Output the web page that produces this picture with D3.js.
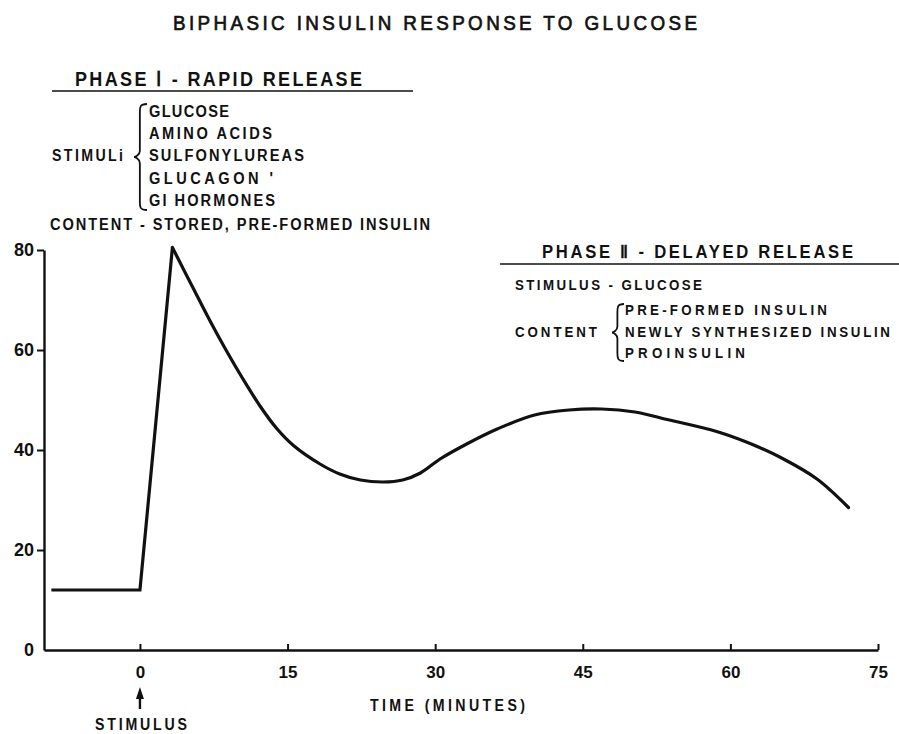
<!DOCTYPE html>
<html><head><meta charset="utf-8">
<script src="https://cdn.jsdelivr.net/npm/d3@7"></script>
<style>body{margin:0;background:#fff}svg{display:block}</style>
</head><body><svg id="c" width="899" height="734"></svg>
<script>
// ---- data ----
const timeMinutes = [-9, 0, 3.3, 5.4, 7.1, 8.8, 10.5, 12.2, 13.9, 15.6, 18.3, 20.3, 22.4, 24.7, 26.7, 28.5, 30.5, 33.2, 36.3, 40.1, 43.6, 46.9, 50.3, 53.8, 58.6, 62, 65.3, 68.8, 72];
const insulinLevel = [12, 12, 80.5, 72.4, 65.9, 59.8, 54.1, 48.8, 44.3, 40.9, 37.2, 35.2, 34, 33.6, 34, 35.4, 38.2, 41.2, 44.2, 47, 48, 48.2, 47.6, 46.0, 43.7, 41.3, 38.3, 34.2, 28.5];
const peakIndex = 2;
const xTickValues = [0, 15, 30, 45, 60, 75];
const yTickValues = [0, 20, 40, 60, 80];
const chartTitle = "BIPHASIC INSULIN RESPONSE TO GLUCOSE";
const xAxisTitle = "TIME (MINUTES)";
const stimulusLabel = "STIMULUS";
const phase1Heading = "PHASE \u2160 - RAPID RELEASE";
const phase1StimuliLabel = "STIMULi";
const phase1Stimuli = ["GLUCOSE", "AMINO ACIDS", "SULFONYLUREAS", "GLUCAGON '", "GI HORMONES"];
const phase1Content = "CONTENT - STORED, PRE-FORMED INSULIN";
const phase2Heading = "PHASE \u2161 - DELAYED RELEASE";
const phase2Stimulus = "STIMULUS - GLUCOSE";
const phase2ContentLabel = "CONTENT";
const phase2Content = ["PRE-FORMED INSULIN", "NEWLY SYNTHESIZED INSULIN", "PROINSULIN"];

// ---- drawing ----
const svg = d3.select("#c");
const ink = "#111";
const FONT = "'Liberation Sans', Arial, sans-serif";
const x = d3.scaleLinear().domain([-9.75, 75]).range([44, 878]);
const y = d3.scaleLinear().domain([0, 80]).range([650, 250]);

// condensed lettering with open spacing, like stencil lettering
function txt(px, py, s, size, weight, width, sx) {
  sx = sx || 0.86;
  const t = svg.append("text").attr("transform", `translate(${px},${py}) scale(${sx},1)`).text(s)
    .attr("font-family", FONT).attr("font-size", size).attr("font-weight", weight)
    .attr("fill", ink);
  if (width) t.attr("textLength", width / sx).attr("lengthAdjust", "spacing");
  return t;
}
function brace(tipX, y0, y1, w) {
  const m = (y0 + y1) / 2, xl = tipX + w * 0.45, xr = tipX + w;
  const p = `M${xr},${y0} C${xl},${y0} ${xl},${y0+3} ${xl},${y0+8} L${xl},${m-6} C${xl},${m-2} ${tipX+1},${m} ${tipX},${m} C${tipX+1},${m} ${xl},${m+2} ${xl},${m+6} L${xl},${y1-8} C${xl},${y1-3} ${xl},${y1} ${xr},${y1}`;
  svg.append("path").attr("d", p).attr("fill", "none").attr("stroke", ink).attr("stroke-width", 1.8);
}

// title
txt(173, 30, chartTitle, 20.5, "normal", 524, 0.92).attr("stroke", ink).attr("stroke-width", 0.7);

// Phase I block
txt(75, 86, phase1Heading, 20, "bold", 287, 0.9);
svg.append("line").attr("x1", 52).attr("x2", 413).attr("y1", 91).attr("y2", 91).attr("stroke", ink).attr("stroke-width", 1.6);
const p1Base = [117, 139, 161, 184, 206];
const p1Widths = [80, 123, 155, 124, 126];
phase1Stimuli.forEach((s, i) => txt(149, p1Base[i], s, 17, "bold", p1Widths[i]));
txt(52, 161, phase1StimuliLabel, 16.5, "bold", 71);
brace(134, 104, 210, 13);
txt(50, 230, phase1Content, 17, "bold", 380);

// Phase II block
txt(542, 258, phase2Heading, 18.5, "bold", 311, 0.9);
svg.append("line").attr("x1", 500).attr("x2", 899).attr("y1", 264).attr("y2", 264).attr("stroke", ink).attr("stroke-width", 1.6);
txt(515, 290, phase2Stimulus, 15.5, "bold", 187);
const p2Base = [315, 337, 358];
const p2Widths = [202, 265, 120];
phase2Content.forEach((s, i) => txt(625, p2Base[i], s, 15.5, "bold", p2Widths[i]));
txt(515, 337, phase2ContentLabel, 15.5, "bold", 82);
brace(612, 304, 361, 12);

// axes
const yAxis = svg.append("g").attr("transform", `translate(${x(-9.75)},0)`)
  .call(d3.axisLeft(y).tickValues(yTickValues).tickSizeInner(7).tickSizeOuter(0).tickPadding(3).tickFormat(d3.format("d")));
yAxis.select(".domain").attr("stroke", ink).attr("stroke-width", 2.4);
yAxis.selectAll(".tick line").attr("stroke", ink).attr("stroke-width", 2);
yAxis.selectAll(".tick text").attr("font-family", FONT).attr("font-size", 18).attr("font-weight", "bold").attr("fill", ink);
yAxis.selectAll(".tick").filter(d => d === 0).select("line").remove();

const xAxis = svg.append("g").attr("transform", `translate(0,${y(0)})`)
  .call(d3.axisBottom(x).tickValues(xTickValues).tickSizeInner(-6).tickSizeOuter(0).tickPadding(16).tickFormat(d3.format("d")));
xAxis.select(".domain").attr("stroke", ink).attr("stroke-width", 2.4);
xAxis.selectAll(".tick line").attr("stroke", ink).attr("stroke-width", 2);
xAxis.selectAll(".tick text").attr("font-family", FONT).attr("font-size", 17).attr("font-weight", "bold").attr("fill", ink);

// x axis title & stimulus arrow
txt(370, 711, xAxisTitle, 16.5, "bold", 155);
svg.append("line").attr("x1", x(0)).attr("x2", x(0)).attr("y1", 709).attr("y2", 696).attr("stroke", ink).attr("stroke-width", 2.4);
svg.append("path").attr("d", `M${x(0)},687 L${x(0)-4},699 L${x(0)+4},699 Z`).attr("fill", ink);
txt(95, 730, stimulusLabel, 16.5, "bold", 92);

// curve
const pts = timeMinutes.map((t, i) => [t, insulinLevel[i]]);
const riseLine = d3.line().x(d => x(d[0])).y(d => y(d[1])).curve(d3.curveLinear);
const decayLine = d3.line().x(d => x(d[0])).y(d => y(d[1])).curve(d3.curveCatmullRom.alpha(0.5));
svg.append("path").attr("d", riseLine(pts.slice(0, peakIndex + 1))).attr("fill", "none")
  .attr("stroke", ink).attr("stroke-width", 3.2).attr("stroke-linejoin", "miter");
svg.append("path").attr("d", decayLine(pts.slice(peakIndex))).attr("fill", "none")
  .attr("stroke", ink).attr("stroke-width", 3.2).attr("stroke-linecap", "round");
</script></body></html>
